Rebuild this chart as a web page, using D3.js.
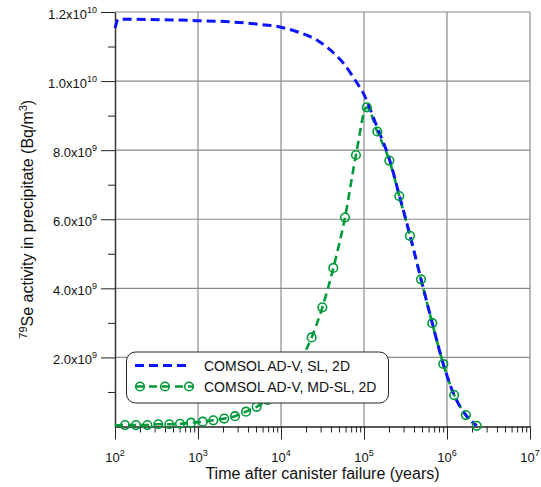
<!DOCTYPE html>
<html>
<meta charset="utf-8">
<head>
    <title>Se-79 activity in precipitate</title>
    <script src="https://d3js.org/d3.v7.min.js" charset="utf-8"></script>
    <style>
    body { margin: 0; background: white; }
    text { font-family: Arial, "Liberation Sans", sans-serif; fill: #111; }
    </style>
</head>

<body>
    <script>

    // Data
    // COMSOL AD-V, SL, 2D (blue dashed)
    var slTime  = [100, 110, 963, 2640, 5090, 1.0e4, 1.69e4, 2.69e4, 4.86e4, 5.64e4, 7.8e4, 9.8e4,
                   1.42e5, 2.02e5, 2.66e5, 3.58e5, 4.86e5, 6.65e5, 9.02e5, 1.22e6, 1.69e6, 2.28e6];
    var slValue = [1.153e10, 1.179e10, 1.175e10, 1.171e10, 1.165e10, 1.156e10, 1.140e10, 1.119e10, 1.069e10, 1.052e10, 1.003e10, 9.65e9,
                   8.70e9, 7.74e9, 6.70e9, 5.54e9, 4.27e9, 2.99e9, 1.81e9, 0.91e9, 0.33e9, 0.02e9];

    // COMSOL AD-V, MD-SL, 2D (green dashed with circles)
    var mdTime  = [100, 132, 179, 245, 332, 451, 607, 824, 1140, 1530, 2070, 2790, 3790, 5090,
                   6870, 9330, 1.265e4, 1.72e4, 2.34e4, 3.15e4, 4.27e4, 5.9e4, 8.0e4, 1.08e5,
                   1.445e5, 2.02e5, 2.66e5, 3.58e5, 4.86e5, 6.65e5, 9.02e5, 1.22e6, 1.69e6, 2.28e6];
    var mdValue = [0.03e9, 0.04e9, 0.04e9, 0.04e9, 0.065e9, 0.065e9, 0.08e9, 0.11e9, 0.14e9, 0.18e9, 0.23e9, 0.30e9, 0.43e9, 0.57e9,
                   0.77e9, 1.04e9, 1.41e9, 1.91e9, 2.58e9, 3.45e9, 4.59e9, 6.05e9, 7.86e9, 9.24e9,
                   8.54e9, 7.70e9, 6.67e9, 5.52e9, 4.26e9, 2.99e9, 1.81e9, 0.91e9, 0.33e9, 0.02e9];

    // Axis ticks
    var xMajor = [1e2, 1e3, 1e4, 1e5, 1e6, 1e7];
    var xExponents = ["2", "3", "4", "5", "6", "7"];
    var yMajor = [2e9, 4e9, 6e9, 8e9, 1.0e10, 1.2e10];
    var yMantissa = ["2.0", "4.0", "6.0", "8.0", "1.0", "1.2"];
    var yExponents = ["9", "9", "9", "9", "10", "10"];
    var yMinor = [1e9, 3e9, 5e9, 7e9, 9e9, 1.1e10];

    var legendLabels = ["COMSOL AD-V, SL, 2D", "COMSOL AD-V, MD-SL, 2D"];

    var blue = "#0a14ff";
    var green = "#009a3a";
    var gridColor = "#8a8a8a";

    // Dimensions
    var width = 541;
    var height = 487;
    var plotLeft = 115, plotRight = 530, plotTop = 12, plotBottom = 426.5;

    var svg = d3.select("body")
        .append("svg")
        .attr("width", width)
        .attr("height", height);

    var x = d3.scaleLog()
        .domain([1e2, 1e7])
        .range([plotLeft, plotRight]);

    var y = d3.scaleLinear()
        .domain([0, 1.2e10])
        .range([plotBottom, plotTop]);

    // Minor x ticks: 2..9 within each decade
    var xMinor = [];
    xMajor.slice(0, -1).forEach(function(d) {
        for (var k = 2; k <= 9; k++) xMinor.push(d * k);
    });

    // Grid lines
    var grid = svg.append("g");
    grid.selectAll("line.v")
        .data(xMajor.slice(1))
        .enter()
        .append("line")
        .attr("class", "v")
        .attr("x1", function(d) { return x(d); })
        .attr("x2", function(d) { return x(d); })
        .attr("y1", plotTop)
        .attr("y2", plotBottom)
        .attr("stroke", gridColor)
        .attr("stroke-width", 1.2);
    grid.selectAll("line.h")
        .data(yMajor)
        .enter()
        .append("line")
        .attr("class", "h")
        .attr("x1", plotLeft)
        .attr("x2", plotRight)
        .attr("y1", function(d) { return y(d); })
        .attr("y2", function(d) { return y(d); })
        .attr("stroke", gridColor)
        .attr("stroke-width", 1.2);

    // X axis: minor and major ticks
    svg.append("g")
        .attr("transform", "translate(0," + plotBottom + ")")
        .call(d3.axisBottom(x).tickValues(xMinor).tickSize(6).tickFormat(""))
        .call(function(g) { g.select(".domain").remove(); g.selectAll("line").attr("stroke", "#222"); });

    var xAxis = svg.append("g")
        .attr("transform", "translate(0," + plotBottom + ")")
        .call(d3.axisBottom(x).tickValues(xMajor).tickSize(13).tickSizeOuter(0).tickFormat(""));
    xAxis.select(".domain").attr("stroke", "#222").attr("stroke-width", 1.3);
    xAxis.selectAll("line").attr("stroke", "#222");

    var xLabels = svg.append("g");
    xMajor.forEach(function(d, i) {
        var t = xLabels.append("text")
            .attr("x", x(d))
            .attr("y", 462)
            .attr("text-anchor", "middle")
            .style("font-size", "13px");
        t.append("tspan").text("10");
        t.append("tspan").attr("dy", -6).style("font-size", "9px").text(xExponents[i]);
    });

    // Y axis: minor and major ticks
    svg.append("g")
        .attr("transform", "translate(" + plotLeft + ",0)")
        .call(d3.axisLeft(y).tickValues(yMinor).tickSize(7).tickFormat(""))
        .call(function(g) { g.select(".domain").remove(); g.selectAll("line").attr("stroke", "#222"); });

    var yAxis = svg.append("g")
        .attr("transform", "translate(" + plotLeft + ",0)")
        .call(d3.axisLeft(y).tickValues(yMajor).tickSize(14).tickSizeOuter(0).tickFormat(""));
    yAxis.select(".domain").attr("stroke", "#333").attr("stroke-width", 1.5);
    yAxis.selectAll("line").attr("stroke", "#222");

    var yLabels = svg.append("g");
    yMajor.forEach(function(d, i) {
        var t = yLabels.append("text")
            .attr("x", 97)
            .attr("y", y(d) + 7)
            .attr("text-anchor", "end")
            .style("font-size", "13px");
        t.append("tspan").text(yMantissa[i] + "x10");
        t.append("tspan").attr("dy", -6).style("font-size", "9px").text(yExponents[i]);
    });

    // Axis titles
    svg.append("text")
        .attr("x", (plotLeft + plotRight) / 2)
        .attr("y", 479)
        .attr("text-anchor", "middle")
        .style("font-size", "16px")
        .text("Time after canister failure (years)");

    var yTitle = svg.append("text")
        .attr("transform", "translate(33," + ((plotTop + plotBottom) / 2) + ") rotate(-90)")
        .attr("text-anchor", "middle")
        .style("font-size", "16px");
    yTitle.append("tspan").attr("dy", -6).style("font-size", "11px").text("79");
    yTitle.append("tspan").attr("dy", 6).text("Se activity in precipitate (Bq/m");
    yTitle.append("tspan").attr("dy", -6).style("font-size", "11px").text("3");
    yTitle.append("tspan").attr("dy", 6).text(")");

    // Lines
    var line = d3.line()
        .x(function(d) { return x(d[0]); })
        .y(function(d) { return y(d[1]); })
        .curve(d3.curveMonotoneX);

    var slData = d3.zip(slTime, slValue);
    var mdData = d3.zip(mdTime, mdValue);

    svg.append("path")
        .attr("d", line(mdData))
        .attr("fill", "none")
        .attr("stroke", green)
        .attr("stroke-width", 2.6)
        .attr("stroke-dasharray", "8,5");

    svg.append("path")
        .attr("d", line(slData))
        .attr("fill", "none")
        .attr("stroke", blue)
        .attr("stroke-width", 3)
        .attr("stroke-dasharray", "9,5");

    svg.append("g")
        .selectAll("circle")
        .data(mdData.slice(1))
        .enter()
        .append("circle")
        .attr("cx", function(d) { return x(d[0]); })
        .attr("cy", function(d) { return y(d[1]); })
        .attr("r", 4.3)
        .attr("fill", "none")
        .attr("stroke", green)
        .attr("stroke-width", 1.6);

    // Legend
    var legend = svg.append("g");
    legend.append("rect")
        .attr("x", 126.5)
        .attr("y", 352)
        .attr("width", 262)
        .attr("height", 51)
        .attr("rx", 9)
        .attr("fill", "white")
        .attr("stroke", "#222")
        .attr("stroke-width", 1);

    legend.append("line")
        .attr("x1", 135).attr("x2", 190)
        .attr("y1", 365.5).attr("y2", 365.5)
        .attr("stroke", blue)
        .attr("stroke-width", 3)
        .attr("stroke-dasharray", "9,5");

    legend.append("line")
        .attr("x1", 136).attr("x2", 193)
        .attr("y1", 386.5).attr("y2", 386.5)
        .attr("stroke", green)
        .attr("stroke-width", 2.6)
        .attr("stroke-dasharray", "8,5");

    legend.selectAll("circle")
        .data([140, 165, 189])
        .enter()
        .append("circle")
        .attr("cx", function(d) { return d; })
        .attr("cy", 386.5)
        .attr("r", 4.3)
        .attr("fill", "none")
        .attr("stroke", green)
        .attr("stroke-width", 1.6);

    legend.selectAll("text")
        .data(legendLabels)
        .enter()
        .append("text")
        .attr("x", 204)
        .attr("y", function(d, i) { return 370.5 + i * 21.5; })
        .style("font-size", "14px")
        .text(function(d) { return d; });

    </script>
</body>
</html>
